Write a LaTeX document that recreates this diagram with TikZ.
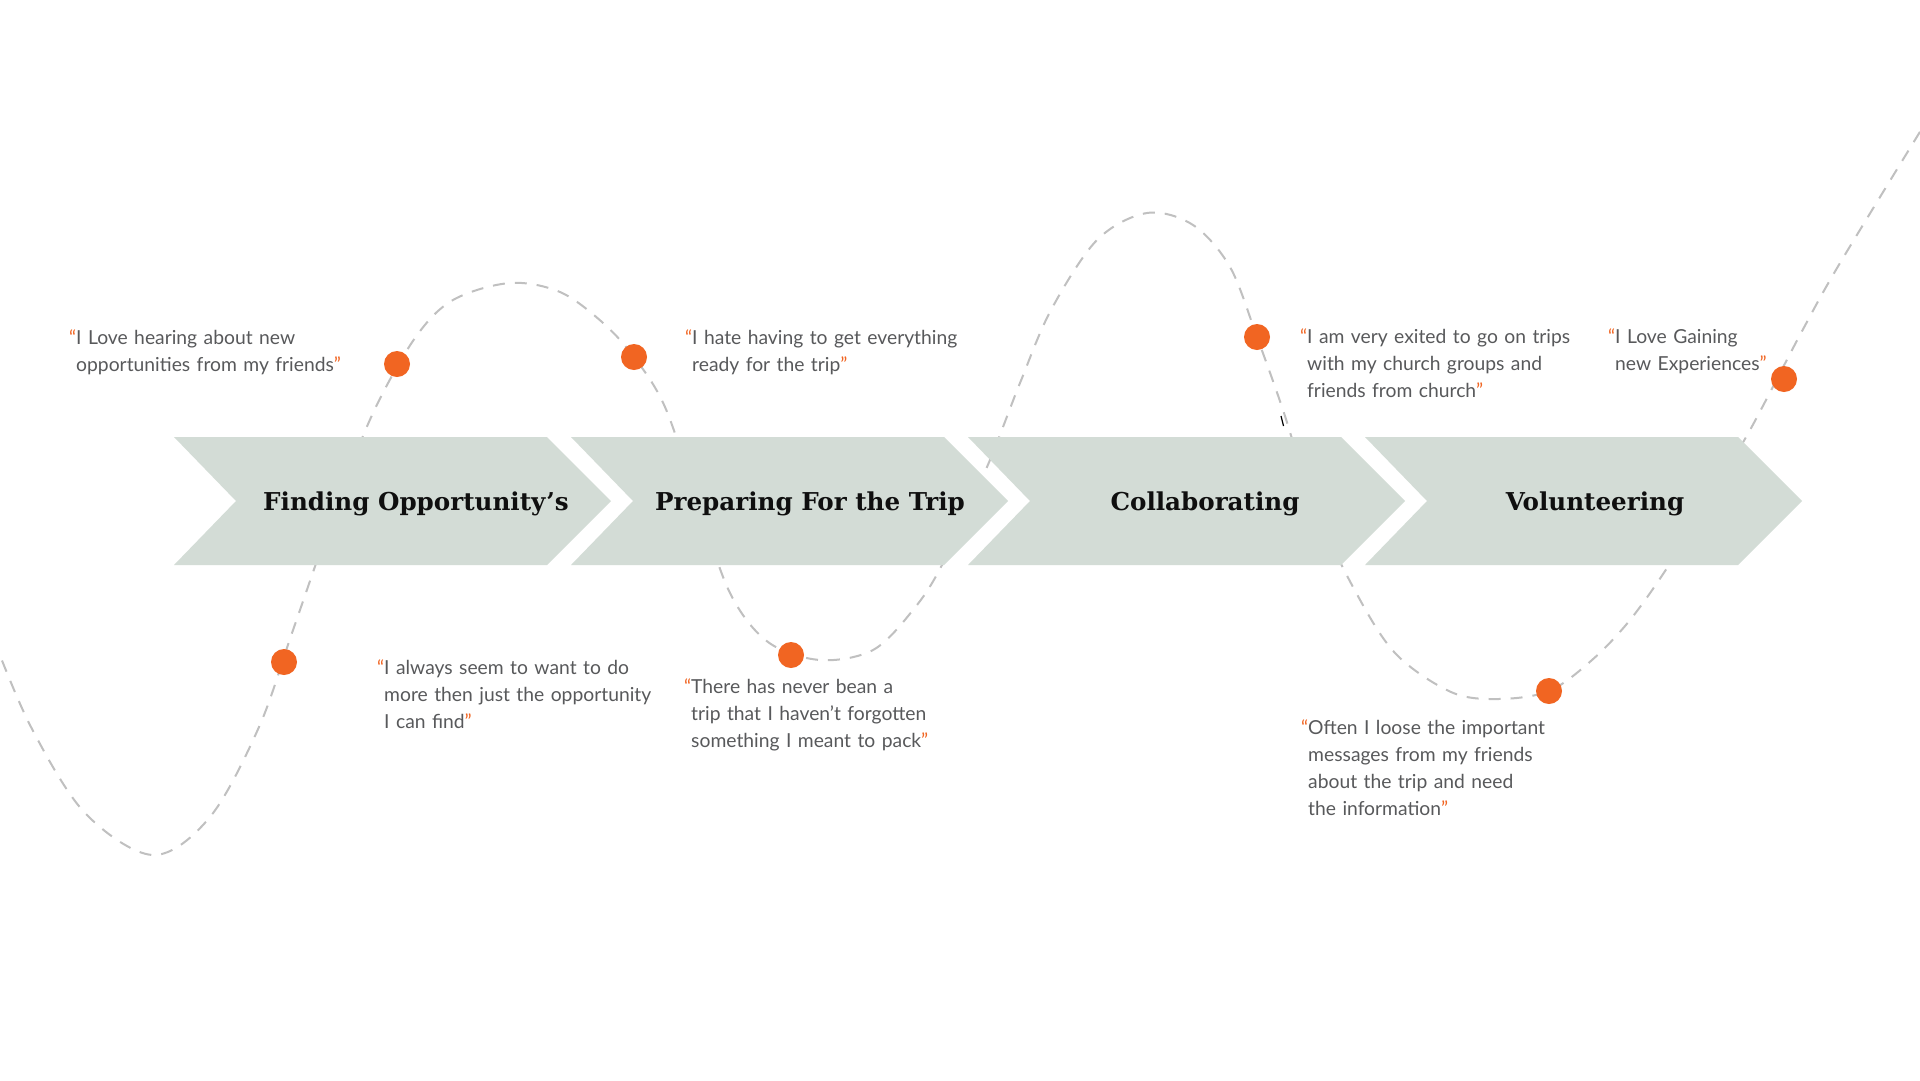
\documentclass[tikz,border=0pt]{standalone}
\usepackage{fontspec}
\setmainfont{Lato}
\newfontfamily\titlefont{DejaVu Serif}
\definecolor{qorange}{RGB}{241,101,34}
\definecolor{chevfill}{RGB}{211,220,214}
\definecolor{textgrey}{RGB}{88,89,91}
\definecolor{wavegrey}{RGB}{192,192,192}
\definecolor{titleblack}{RGB}{15,15,15}
\newcommand{\oq}{\llap{\textcolor{qorange}{“}}}
\newcommand{\cq}{\textcolor{qorange}{”}}
\tikzset{
  wave/.style={draw=wavegrey, line width=2pt, dash pattern=on 12pt off 10pt},
  chev/.style={fill=chevfill, draw=none},
  dotmark/.style={circle, fill=qorange, minimum size=26pt, inner sep=0pt},
  quotebox/.style={anchor=base west, inner sep=0pt, text width=420pt, align=left, text=textgrey, font=\fontsize{19.3}{27}\selectfont},
  titlebox/.style={anchor=base, inner sep=0pt, text=titleblack, font=\titlefont\bfseries\fontsize{24.6}{28}\selectfont},
}
\begin{document}
\begin{tikzpicture}[x=1pt,y=-1pt]
\useasboundingbox[fill=white] (0,0) rectangle (1920,1080);

% dashed wave
\draw[wave] plot[smooth, tension=0.55] coordinates {
 (-6,640) (31,727) (85,813) (153,855) (210,817) (259,727) (292,633)
 (336,507) (373,413) (415,338) (453,300) (510,283) (560,292) (602,322)
 (634,357) (665,407) (697,500) (730,593) (768,642) (820,660) (873,650)
 (913,610) (942,565) (987,467) (1020,383) (1051,310) (1097,240) (1147,213)
 (1193,225) (1230,267) (1257,337) (1283,410) (1312,500) (1353,587) (1395,653)
 (1451,692) (1498,699) (1549,691) (1592,660) (1630,620) (1669,565) (1710,497)
 (1750,430) (1801,333) (1840,263) (1926,122)};

% chevrons
\foreach \L in {174,571,968,1365}{
  \fill[chev] (\L,437) -- ({\L+373},437) -- ({\L+437},501) -- ({\L+373},565)
              -- (\L,565) -- ({\L+62},501) -- cycle;
}

% small black tick
\draw[black, line width=1.2pt] (1281,416) -- (1283.5,426);

% titles
\node[titlebox] (t1) at (416,510) {Finding Opportunity’s};
\node[titlebox] (t2) at (810,510) {Preparing For the Trip};
\node[titlebox] (t3) at (1205,510) {Collaborating};
\node[titlebox] (t4) at (1595,510) {Volunteering};

% dots
\node[dotmark] (d1) at (284,662) {};
\node[dotmark] (d2) at (397,364) {};
\node[dotmark] (d3) at (634,357) {};
\node[dotmark] (d4) at (791,655) {};
\node[dotmark] (d5) at (1257,337) {};
\node[dotmark] (d6) at (1549,691) {};
\node[dotmark] (d7) at (1784,379) {};

% quotes
\node[quotebox] (q1) at (76,344) {\oq I Love hearing about new\\opportunities from my friends\cq};
\node[quotebox] (q2) at (692,344) {\oq I hate having to get everything\\ready for the trip\cq};
\node[quotebox] (q3) at (1307,343) {\oq I am very exited to go on trips\\with my church groups and\\friends from church\cq};
\node[quotebox] (q4) at (1615,343) {\oq I Love Gaining\\new Experiences\cq};
\node[quotebox] (q5) at (384,674) {\oq I always seem to want to do\\more then just the opportunity\\I can find\cq};
\node[quotebox] (q6) at (691,693) {\oq There has never bean a\\trip that I haven’t forgotten\\something I meant to pack\cq};
\node[quotebox] (q7) at (1308,734) {\oq Often I loose the important\\messages from my friends\\about the trip and need\\the information\cq};
\end{tikzpicture}
\end{document}
